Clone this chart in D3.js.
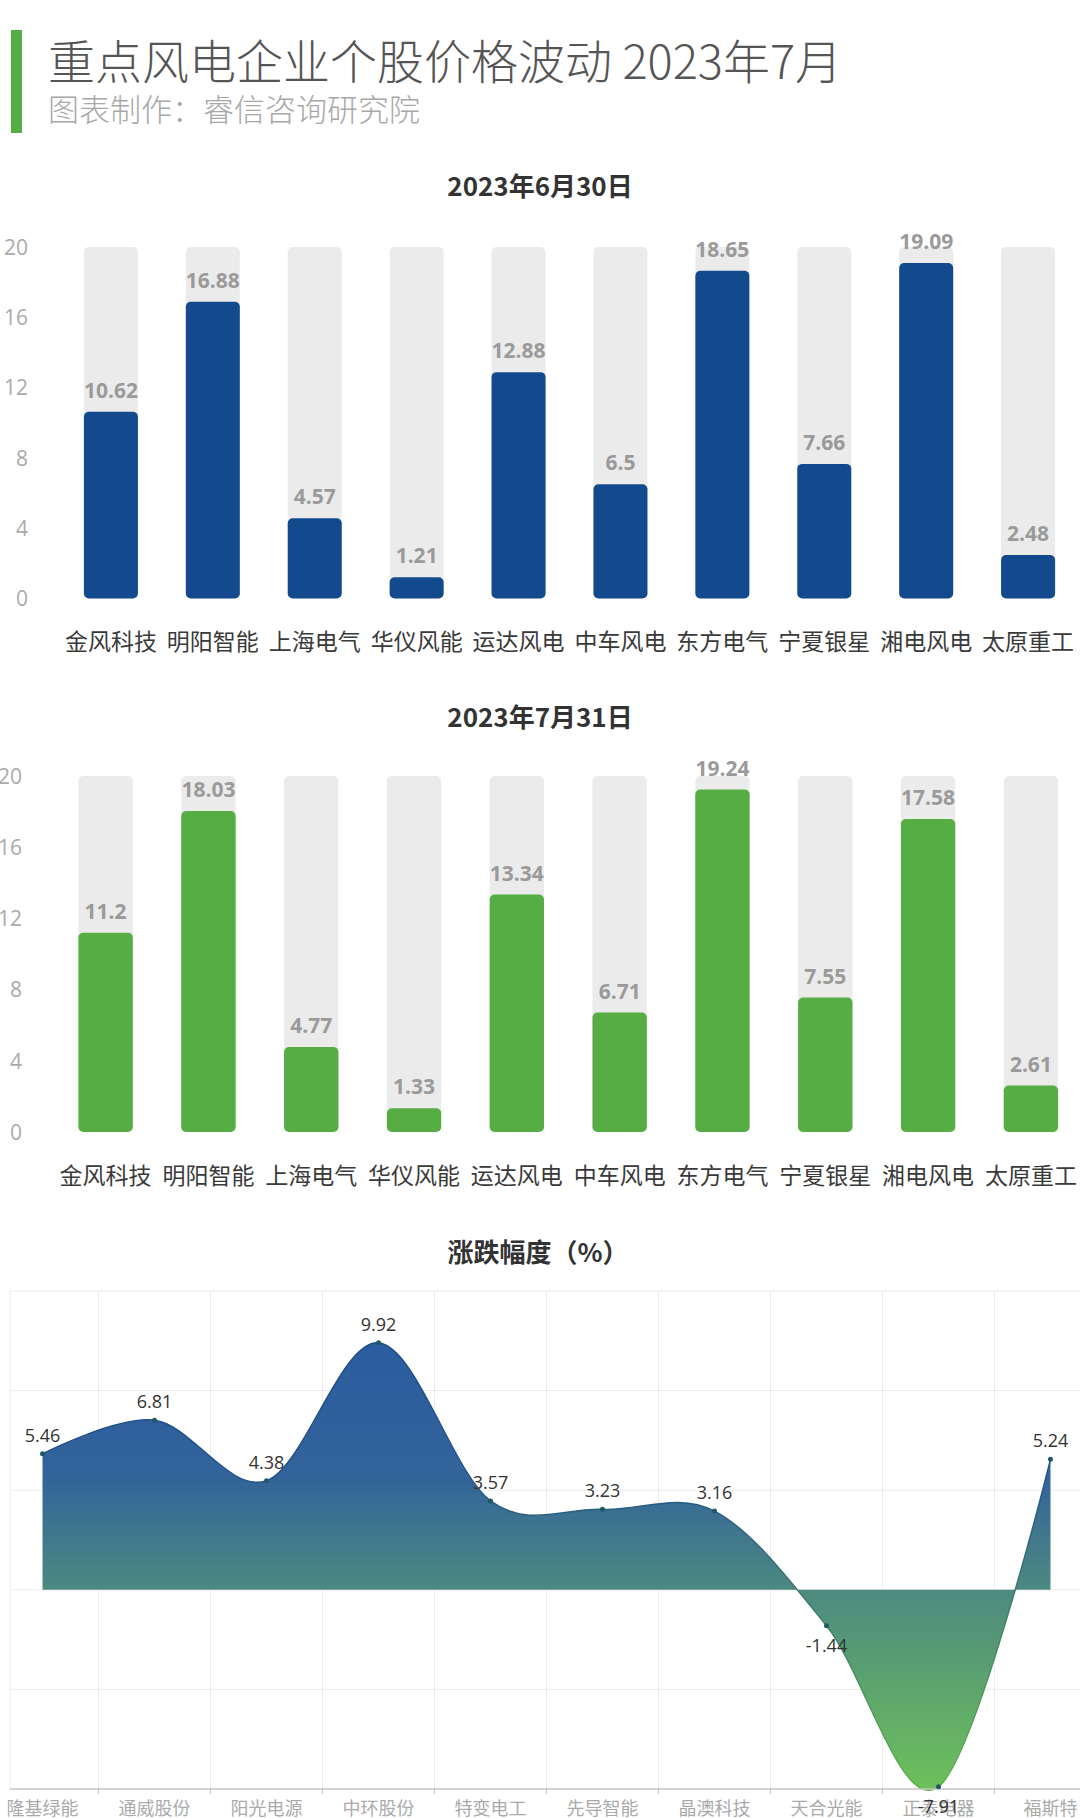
<!DOCTYPE html>
<html>
<head>
<meta charset="utf-8">
<script src="https://cdn.jsdelivr.net/npm/d3@7"></script>
<style>
  html, body { margin: 0; padding: 0; background: #ffffff; }
  svg { display: block; font-family: "Open Sans", "Noto Sans CJK SC", sans-serif; }
</style>
</head>
<body>
<svg id="chart" width="1080" height="1818"></svg>
<script>
// ---------- data ----------
const titleText = "重点风电企业个股价格波动 2023年7月";
const subtitleText = "图表制作：睿信咨询研究院";

const windCompanies = ["金风科技", "明阳智能", "上海电气", "华仪风能", "运达风电", "中车风电", "东方电气", "宁夏银星", "湘电风电", "太原重工"];
const juneTitle = "2023年6月30日";
const junePrices = [10.62, 16.88, 4.57, 1.21, 12.88, 6.5, 18.65, 7.66, 19.09, 2.48];
const julyTitle = "2023年7月31日";
const julyPrices = [11.2, 18.03, 4.77, 1.33, 13.34, 6.71, 19.24, 7.55, 17.58, 2.61];
const priceTicks = [0, 4, 8, 12, 16, 20];
const priceMax = 20;

const changeTitle = "涨跌幅度（%）";
const changeCompanies = ["隆基绿能", "通威股份", "阳光电源", "中环股份", "特变电工", "先导智能", "晶澳科技", "天合光能", "正泰电器", "福斯特"];
const changeValues = [5.46, 6.81, 4.38, 9.92, 3.57, 3.23, 3.16, -1.44, -7.91, 5.24];
const changeTicks = [-8, -4, 0, 4, 8, 12];

// ---------- drawing ----------
const svg = d3.select("#chart");
svg.append("rect").attr("width", 1080).attr("height", 1818).attr("fill", "#ffffff");

// header
svg.append("rect").attr("x", 11).attr("y", 30).attr("width", 11).attr("height", 103).attr("fill", "#55ae45");
svg.append("text").attr("x", 48).attr("y", 79)
  .attr("font-family", "'Noto Sans CJK SC', sans-serif")
  .attr("font-weight", 200).attr("font-size", 47).attr("fill", "#555")
  .text(titleText);
svg.append("text").attr("x", 48).attr("y", 121)
  .attr("font-family", "'Noto Sans CJK SC', sans-serif")
  .attr("font-weight", 200).attr("font-size", 31).attr("fill", "#a8a8a8")
  .text(subtitleText);

function barChart(opts) {
  const g = svg.append("g");
  const y = d3.scaleLinear().domain([0, priceMax]).range([opts.y0, opts.y20]);
  const x = d3.scaleBand().domain(windCompanies).range(opts.xRange).padding(opts.pad);

  g.append("text").attr("x", 540).attr("y", opts.titleY)
    .attr("text-anchor", "middle").attr("font-family", "'Noto Sans CJK SC', sans-serif")
    .attr("font-weight", 700).attr("font-size", 26).attr("fill", "#333")
    .text(opts.title);

  // y axis labels
  const ya = g.append("g").attr("transform", `translate(${opts.axisX},0)`)
    .call(d3.axisLeft(y).tickValues(priceTicks).tickSize(0).tickPadding(0));
  ya.select(".domain").remove();
  ya.selectAll("text").attr("font-size", 21).attr("fill", "#aaa")
    .attr("font-family", "'Open Sans', sans-serif").attr("dy", "0.35em");

  // background bars
  g.selectAll("rect.bg").data(windCompanies).join("rect").attr("class", "bg")
    .attr("x", d => x(d)).attr("width", x.bandwidth())
    .attr("y", y(priceMax)).attr("height", y(0) - y(priceMax))
    .attr("rx", 5).attr("fill", "#ebebeb");

  // value bars
  g.selectAll("rect.val").data(opts.values).join("rect").attr("class", "val")
    .attr("x", (d, i) => x(windCompanies[i])).attr("width", x.bandwidth())
    .attr("y", d => y(d)).attr("height", d => y(0) - y(d))
    .attr("rx", 5).attr("fill", opts.color);

  // value labels
  g.selectAll("text.vl").data(opts.values).join("text").attr("class", "vl")
    .attr("x", (d, i) => x(windCompanies[i]) + x.bandwidth() / 2)
    .attr("y", d => y(d) - 14)
    .attr("text-anchor", "middle").attr("font-weight", 700).attr("font-size", 21)
    .attr("fill", "#9a9a9a").attr("font-family", "'Open Sans', sans-serif")
    .text(d => d);

  // category axis
  const xa = g.append("g").attr("transform", `translate(0,${opts.y0})`)
    .call(d3.axisBottom(x).tickSize(0));
  xa.select(".domain").remove();
  xa.selectAll("text").attr("y", opts.labelY - opts.y0).attr("dy", null)
    .attr("font-size", 23).attr("fill", "#3a3a3a")
    .attr("font-family", "'Noto Sans CJK SC', sans-serif");
}

barChart({ title: juneTitle, titleY: 196, values: junePrices, color: "#134a8e",
  y0: 598.5, y20: 247, xRange: [36, 1103], pad: 0.47, axisX: 28, labelY: 650 });
barChart({ title: julyTitle, titleY: 727, values: julyPrices, color: "#56ad44",
  y0: 1132, y20: 776, xRange: [30, 1106.5], pad: 0.471, axisX: 22, labelY: 1184 });

// ---------- area chart ----------
const g3 = svg.append("g");
const y3 = d3.scaleLinear().domain([-8, 12]).range([1789, 1291]);
const x3 = d3.scaleBand().domain(changeCompanies).range([-13.5, 1106.5]).padding(0);
const cx = d => x3(d) + x3.bandwidth() / 2;

g3.append("text").attr("x", 538).attr("y", 1262)
  .attr("text-anchor", "middle").attr("font-family", "'Noto Sans CJK SC', sans-serif")
  .attr("font-weight", 700).attr("font-size", 26).attr("fill", "#333")
  .text(changeTitle);

// grid
g3.selectAll("line.hg").data(changeTicks.filter(t => t > -8)).join("line").attr("class", "hg")
  .attr("x1", 10).attr("x2", 1080).attr("y1", d => y3(d)).attr("y2", d => y3(d))
  .attr("stroke", "#ebebeb").attr("stroke-width", 1);
g3.selectAll("line.vg").data(changeCompanies.slice(1)).join("line").attr("class", "vg")
  .attr("x1", d => x3(d)).attr("x2", d => x3(d)).attr("y1", y3(12)).attr("y2", y3(-8))
  .attr("stroke", "#ebebeb").attr("stroke-width", 1);
g3.append("line").attr("x1", 10).attr("x2", 10).attr("y1", y3(12)).attr("y2", y3(-8))
  .attr("stroke", "#ebebeb");

// gradient
const defs = svg.append("defs");
const gTop = y3(d3.max(changeValues)), gBot = y3(d3.min(changeValues));
const grad = defs.append("linearGradient").attr("id", "areaGrad")
  .attr("gradientUnits", "userSpaceOnUse")
  .attr("x1", 0).attr("x2", 0).attr("y1", gTop).attr("y2", gBot);
grad.append("stop").attr("offset", 0).attr("stop-color", "#2b5c9f");
grad.append("stop").attr("offset", 0.3).attr("stop-color", "#32639a");
grad.append("stop").attr("offset", 0.56).attr("stop-color", "#4d8a80");
grad.append("stop").attr("offset", 1).attr("stop-color", "#6dc05a");
const gradL = defs.append("linearGradient").attr("id", "lineGrad")
  .attr("gradientUnits", "userSpaceOnUse")
  .attr("x1", 0).attr("x2", 0).attr("y1", gTop).attr("y2", gBot);
gradL.append("stop").attr("offset", 0).attr("stop-color", "#1d4c86");
gradL.append("stop").attr("offset", 0.3).attr("stop-color", "#22548a");
gradL.append("stop").attr("offset", 0.56).attr("stop-color", "#3d786e");
gradL.append("stop").attr("offset", 1).attr("stop-color", "#5aae4a");

const pts = changeCompanies.map((c, i) => [cx(c), changeValues[i]]);
const area = d3.area().x(d => d[0]).y0(y3(0)).y1(d => y3(d[1])).curve(d3.curveCardinal.tension(0));
const line = d3.line().x(d => d[0]).y(d => y3(d[1])).curve(d3.curveCardinal.tension(0));

g3.append("path").attr("d", area(pts)).attr("fill", "url(#areaGrad)");
g3.append("path").attr("d", line(pts)).attr("fill", "none")
  .attr("stroke", "url(#lineGrad)").attr("stroke-width", 1.5);

// x axis
const xa3 = g3.append("g").attr("transform", `translate(0,${y3(-8)})`)
  .call(d3.axisBottom(x3).tickSize(0));
xa3.select(".domain").remove();
xa3.selectAll("text").attr("y", 1815 - y3(-8)).attr("dy", null)
  .attr("font-size", 18).attr("fill", "#aaa")
  .attr("font-family", "'Noto Sans CJK SC', sans-serif");
g3.append("line").attr("x1", 10).attr("x2", 1080).attr("y1", y3(-8)).attr("y2", y3(-8))
  .attr("stroke", "#c4c4c4").attr("stroke-width", 1.5);
g3.selectAll("line.tk").data(changeCompanies.slice(1)).join("line").attr("class", "tk")
  .attr("x1", d => x3(d)).attr("x2", d => x3(d)).attr("y1", y3(-8)).attr("y2", y3(-8) + 5)
  .attr("stroke", "#c4c4c4");

// points
g3.selectAll("circle.pt").data(pts).join("circle").attr("class", "pt")
  .attr("cx", d => d[0]).attr("cy", d => y3(d[1])).attr("r", 2.5)
  .attr("fill", "#1f5a62");

// value labels
g3.selectAll("text.cl").data(pts).join("text").attr("class", "cl")
  .attr("x", d => d[0]).attr("y", d => d[1] >= 0 ? y3(d[1]) - 12 : y3(d[1]) + 26)
  .attr("text-anchor", "middle").attr("font-size", 18).attr("fill", "#333")
  .attr("font-family", "'Open Sans', sans-serif")
  .text(d => d[1]);
</script>
</body>
</html>
